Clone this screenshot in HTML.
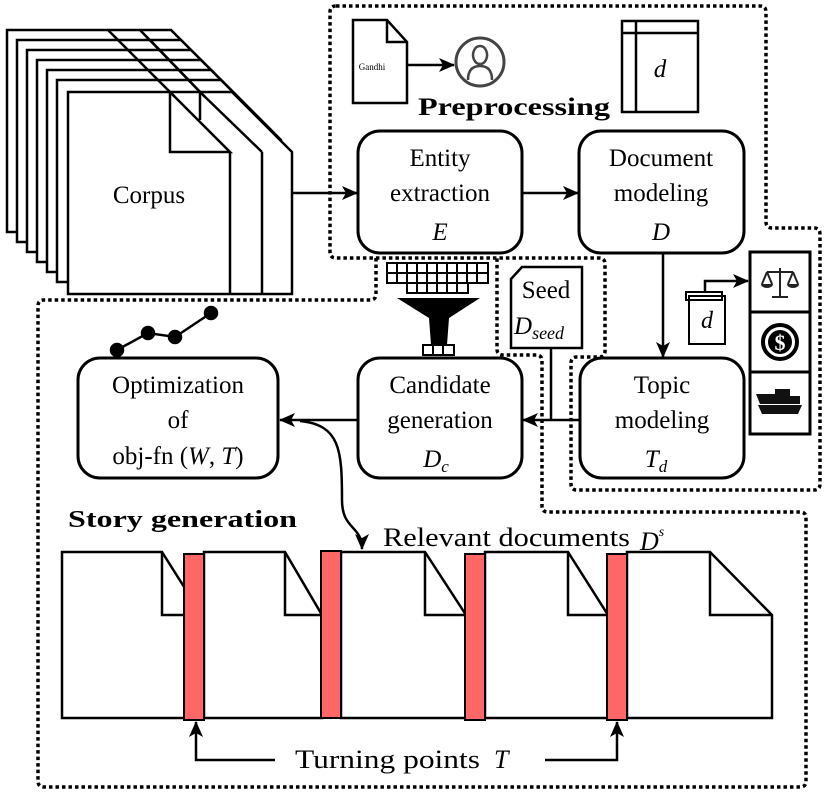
<!DOCTYPE html>
<html><head><meta charset="utf-8"><style>
html,body{margin:0;padding:0;background:#fff;}
svg, svg text{font-family:"Liberation Serif","DejaVu Serif",serif;}
</style></head><body>
<svg width="829" height="796" viewBox="0 0 829 796" xmlns="http://www.w3.org/2000/svg" font-family="Liberation Serif, serif">
<defs>
<marker id="ar2" markerWidth="16" markerHeight="14" refX="15" refY="7" orient="auto" markerUnits="userSpaceOnUse">
<path d="M0,0 L16,7 L0,14 L4,7 Z" fill="#000"/></marker>
</defs>
<g fill="none" stroke="#000" stroke-width="3.5" stroke-dasharray="3.5 3">
<path d="M336,6 H760 Q766,6 766,12 V222 Q766,228 772,228 H814 Q820,228 820,234 V484 Q820,490 814,490 H577 Q571,490 571,484 V363 Q571,357 577,357 H599 Q605,357 605,351 V264 Q605,258 599,258 H336 Q330,258 330,252 V12 Q330,6 336,6 Z"/>
<path d="M376,258 V294 Q376,300 370,300 H44 Q38,300 38,306 V781 Q38,787 44,787 H800 Q806,787 806,781 V518 Q806,512 800,512 H548 Q542,512 542,506 V361 Q542,355 536,355 H503 Q497,355 497,349 V258"/>
</g>
<!-- corpus stack -->
<g stroke="#000" stroke-width="2.5" fill="#fff">
<path d="M7,30 H171 L231,90 V232 H7 Z"/>
<path d="M17,40 H181 L241,100 V242 H17 Z"/>
<path d="M27,50 H191 L251,110 V252 H27 Z"/>
<path d="M37,60 H201 L261,120 V262 H37 Z"/>
<path d="M47,70 H211 L271,130 V272 H47 Z"/>
<path d="M57,80 H221 L281,140 V282 H57 Z"/>
<path d="M68,92 H232 L292,152 V294 H68 Z"/>
<path d="M108,30 L170,92 M140,30 L200,92 M118,40 L175,97 M150,40 L205,97" fill="none"/>
<path d="M170,92 V152 H230 Z M200,92 V120 M230,152 V294 M262,152 V294 M200,92 L262,152 M170,92 L230,152" fill="none"/>
</g>
<text x="149" y="203" font-size="25" text-anchor="middle">Corpus</text>
<!-- boxes -->
<g stroke="#000" stroke-width="3" fill="#fff">
<rect x="358" y="131" width="164" height="122" rx="22"/>
<rect x="579" y="131" width="165" height="122" rx="22"/>
<rect x="580" y="358" width="164" height="120" rx="22"/>
<rect x="358" y="358" width="164" height="120" rx="22"/>
<rect x="78" y="358" width="200" height="120" rx="22"/>
</g>
<g font-size="25" text-anchor="middle">
<text x="440" y="166">Entity</text><text x="440" y="201">extraction</text><text x="440" y="240" font-style="italic">E</text>
<text x="661" y="166">Document</text><text x="661" y="201">modeling</text><text x="661" y="240" font-style="italic">D</text>
<text x="662" y="393">Topic</text><text x="662" y="428">modeling</text><text x="656" y="467" font-style="italic">T<tspan font-size="17" dy="5">d</tspan></text>
<text x="440" y="393">Candidate</text><text x="440" y="428">generation</text><text x="436" y="467" font-style="italic">D<tspan font-size="17" dy="5">c</tspan></text>
<text x="178" y="393">Optimization</text><text x="178" y="428">of</text><text x="178" y="464">obj-fn (<tspan font-style="italic">W</tspan>, <tspan font-style="italic">T</tspan>)</text>
</g>
<!-- arrows -->
<g stroke="#000" stroke-width="2.5" fill="none">
<path d="M292,193 H357" marker-end="url(#ar2)"/>
<path d="M522,193 H578" marker-end="url(#ar2)"/>
<path d="M663,253 V357" marker-end="url(#ar2)"/>
<path d="M580,420 H523" marker-end="url(#ar2)"/>
<path d="M551,348 V420"/>
<path d="M358,420 H280" marker-end="url(#ar2)"/>
<path d="M300,421 C340,425 342,450 342,500 C342,530 362,525 362,549" marker-end="url(#ar2)"/>
<path d="M407,65 H454" marker-end="url(#ar2)"/>
<path d="M705,292 V281 H748" marker-end="url(#ar2)"/>
<path d="M275,760 H196 V722" marker-end="url(#ar2)"/>
<path d="M545,760 H617 V722" marker-end="url(#ar2)"/>
</g>
<!-- Gandhi doc -->
<path d="M353,20 H387 L407,42 V103 H353 Z M387,20 V42 H407" fill="#fff" stroke="#000" stroke-width="2.5"/>
<text x="372" y="70" font-size="9" text-anchor="middle">Gandhi</text>
<circle cx="480" cy="62" r="24" fill="#fff" stroke="#444" stroke-width="3"/>
<path d="M468,80 Q468,66 480,66 Q492,66 492,80 M480,64 a7,9 0 1,1 0.1,0" fill="none" stroke="#444" stroke-width="2.5"/>
<!-- d doc -->
<path d="M622,21 H698 V112 H622 Z M636,21 V112 M622,33 H698" fill="#fff" stroke="#000" stroke-width="2.5"/>
<text x="660" y="77" font-size="25" font-style="italic" text-anchor="middle">d</text>
<text x="418" y="115" font-size="25" font-weight="bold" textLength="192" lengthAdjust="spacingAndGlyphs">Preprocessing</text>
<!-- funnel -->
<g stroke="#000" stroke-width="2" fill="#fff">
<rect x="387" y="263" width="101" height="20"/>
<rect x="407" y="283" width="61" height="10"/>
<path d="M397,263 V283 M407,263 V293 M417,263 V293 M427,263 V293 M437,263 V293 M447,263 V293 M457,263 V293 M467,263 V283 M477,263 V283 M387,273 H488" fill="none"/>
<rect x="423" y="345" width="31" height="10"/>
<path d="M433,345 V355 M443,345 V355" fill="none"/>
</g>
<path d="M397,298 H480 L449,318 L447,345 H431 L429,318 Z" fill="#000"/>
<!-- seed -->
<path d="M522,267 H582 V348 H511 V279 Z" fill="#fff" stroke="#000" stroke-width="2.5"/>
<text x="546" y="298" font-size="25" text-anchor="middle">Seed</text>
<text x="514" y="334" font-size="25" font-style="italic">D<tspan font-size="18" dy="5">seed</tspan></text>
<!-- small d -->
<path d="M689,296 H725 V344 H689 Z M686,292 H722 V300 H686 Z" fill="#fff" stroke="#000" stroke-width="2"/>
<text x="707" y="328" font-size="24" font-style="italic" text-anchor="middle">d</text>
<!-- icon column -->
<path d="M750,252 H810 V434 H750 Z M750,312 H810 M750,372 H810" fill="#fff" stroke="#000" stroke-width="3"/>
<g stroke="#222" stroke-width="2" fill="none">
<path d="M780,268 V297 M772,297 H788 M767,272 H793 M767,272 L762,284 M767,272 L772,284 M793,272 L788,284 M793,272 L798,284"/>
</g>
<path d="M761,284 H773 A6,4 0 0,1 761,284 Z M787,284 H799 A6,4 0 0,1 787,284 Z" fill="#222"/>
<circle cx="780" cy="342" r="17" fill="none" stroke="#000" stroke-width="4"/>
<circle cx="780" cy="342" r="12" fill="#000"/>
<text x="780" y="350" font-size="22" font-weight="bold" fill="#fff" text-anchor="middle" font-family="Liberation Sans, sans-serif">$</text>
<path d="M756,394 H775 V389 H790 V396 H800 V404 H760 Z M758,405 H802 L798,414 H762 Z" fill="#111"/>
<!-- chart -->
<g stroke="#000" stroke-width="2.5" fill="#000">
<path d="M117,350 L148,333 L175,337 L211,313" fill="none"/>
<circle cx="117" cy="350" r="6"/><circle cx="148" cy="333" r="6"/><circle cx="175" cy="337" r="6"/><circle cx="211" cy="313" r="6"/>
</g>
<!-- story -->
<text x="68" y="527" font-size="24" font-weight="bold" textLength="229" lengthAdjust="spacingAndGlyphs">Story generation</text>
<text x="383" y="546" font-size="26" textLength="247" lengthAdjust="spacingAndGlyphs">Relevant documents</text>
<text x="640" y="550" font-size="26" font-style="italic">D<tspan font-size="14" dy="-14">s</tspan></text>
<g stroke="#000" stroke-width="2.5" fill="#fff">
<path d="M62,552 H162 L186,590 V718 H62 Z M162,552 V615 H186"/>
<path d="M204,552 H285 L322,615 V718 H204 Z M285,552 V615 H322"/>
<path d="M341,552 H425 L466,615 V718 H341 Z M425,552 V615 H466"/>
<path d="M485,552 H568 L608,615 V718 H485 Z M568,552 V615 H608"/>
<path d="M627,552 H710 L772,615 V718 H627 Z M710,552 V615 H772"/>
</g>
<g fill="#ff6666" stroke="#000" stroke-width="2">
<rect x="184" y="554" width="20" height="166"/>
<rect x="321" y="551" width="20" height="167"/>
<rect x="465" y="554" width="20" height="166"/>
<rect x="607" y="554" width="20" height="166"/>
</g>
<text x="295" y="768" font-size="26" textLength="185" lengthAdjust="spacingAndGlyphs">Turning points</text>
<text x="494" y="768" font-size="26" font-style="italic">T</text>
</svg>
</body></html>
